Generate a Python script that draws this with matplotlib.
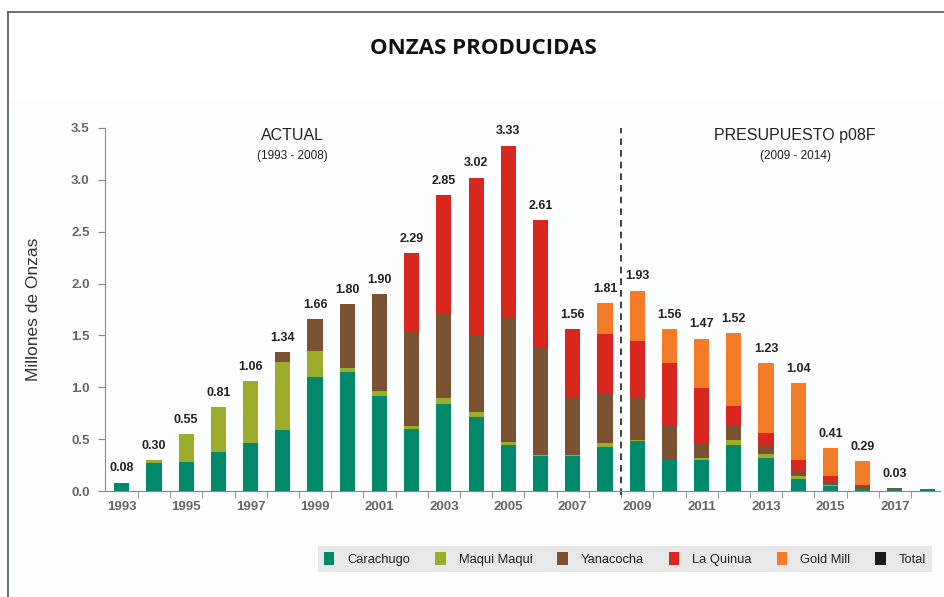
import matplotlib
matplotlib.use('Agg')
import matplotlib.pyplot as plt
import numpy as np
from matplotlib.patches import Patch, Rectangle
from matplotlib.lines import Line2D

years = list(range(1993, 2019))
carachugo = [0.08, 0.27, 0.28, 0.38, 0.46, 0.59, 1.10, 1.15, 0.92, 0.60, 0.84, 0.71, 0.44,
             0.34, 0.34, 0.42, 0.48, 0.30, 0.30, 0.44, 0.32, 0.12, 0.05, 0.02, 0.02, 0.02]
maqui = [0.00, 0.03, 0.27, 0.43, 0.60, 0.65, 0.25, 0.04, 0.04, 0.03, 0.06, 0.05, 0.03,
         0.01, 0.01, 0.04, 0.01, 0.00, 0.02, 0.05, 0.04, 0.02, 0.01, 0.00, 0.00, 0.00]
yanacocha = [0.00, 0.00, 0.00, 0.00, 0.00, 0.10, 0.31, 0.61, 0.94, 0.90, 0.81, 0.74, 1.20,
             1.03, 0.56, 0.48, 0.42, 0.33, 0.14, 0.14, 0.07, 0.04, 0.04, 0.03, 0.005, 0.00]
la_quinua = [0.00, 0.00, 0.00, 0.00, 0.00, 0.00, 0.00, 0.00, 0.00, 0.76, 1.14, 1.52, 1.66,
             1.23, 0.65, 0.57, 0.54, 0.60, 0.53, 0.19, 0.13, 0.12, 0.04, 0.01, 0.00, 0.00]
gold_mill = [0.00, 0.00, 0.00, 0.00, 0.00, 0.00, 0.00, 0.00, 0.00, 0.00, 0.00, 0.00, 0.00,
             0.00, 0.00, 0.30, 0.48, 0.33, 0.48, 0.70, 0.67, 0.74, 0.27, 0.23, 0.005, 0.00]
totals = ['0.08', '0.30', '0.55', '0.81', '1.06', '1.34', '1.66', '1.80', '1.90', '2.29', '2.85',
          '3.02', '3.33', '2.61', '1.56', '1.81', '1.93', '1.56', '1.47', '1.52', '1.23', '1.04',
          '0.41', '0.29', '0.03', '']

series = [('Carachugo', carachugo, '#00896b'),
          ('Maqui Maqui', maqui, '#9cad2b'),
          ('Yanacocha', yanacocha, '#7b5231'),
          ('La Quinua', la_quinua, '#d9271f'),
          ('Gold Mill', gold_mill, '#f47b27')]

plt.rcParams['font.family'] = ['Liberation Sans', 'DejaVu Sans']
narrow = ['Liberation Sans Narrow', 'Liberation Sans']

fig = plt.figure(figsize=(9.45, 5.97), dpi=100)
fig.patch.set_facecolor('white')

# faint panel + frame
fig.add_artist(Rectangle((8/945, 0), 1, 1 - 100/597, transform=fig.transFigure,
                         facecolor='#fcfdfe', edgecolor='none', zorder=-10))
fig.add_artist(Line2D([8/945, 8/945], [0, 1 - 12/597], transform=fig.transFigure,
                      color='#555555', lw=1.2))
fig.add_artist(Line2D([8/945, 1], [1 - 12/597, 1 - 12/597], transform=fig.transFigure,
                      color='#555555', lw=1.2))

ax = fig.add_axes([105/945, 1 - 491/597, (940 - 105)/945, (491 - 128)/597])
ax.set_facecolor('none')

x = np.arange(len(years))
bottom = np.zeros(len(years))
for name, vals, col in series:
    v = np.array(vals)
    ax.bar(x, v, 0.47, bottom=bottom, color=col, label=name)
    bottom += v

for i, t in enumerate(totals):
    if t:
        ax.annotate(t, (x[i], bottom[i]), xytext=(0, 6), textcoords='offset points',
                    ha='center', va='bottom', fontsize=9, fontweight='bold',
                    family=narrow, color='#222222')

ax.set_xlim(-0.52, 25.4)
ax.set_ylim(0, 3.5)
ax.set_yticks(np.arange(0, 3.51, 0.5))
ax.set_yticklabels([f'{v:.1f}' for v in np.arange(0, 3.51, 0.5)])
ax.set_xticks(x[::2])
ax.set_xticklabels([str(y) for y in years[::2]])
ax.set_xticks(np.arange(0.5, 25.5, 1), minor=True)
ax.tick_params(axis='x', which='major', length=0, pad=7)
ax.tick_params(axis='x', which='minor', length=5, color='#888888')
ax.tick_params(axis='y', length=5, color='#888888', pad=6)
for lab in ax.get_xticklabels() + ax.get_yticklabels():
    lab.set_fontweight('bold')
    lab.set_color('#666666')
    lab.set_fontsize(9.5)
for s in ['top', 'right']:
    ax.spines[s].set_visible(False)
for s in ['left', 'bottom']:
    ax.spines[s].set_color('#888888')

ax.set_ylabel('Millones de Onzas', fontsize=12.5, color='#333333', labelpad=22)

ax.axvline(15.5, ymin=-0.01, ymax=1.0, color='#222222', ls=(0, (4, 3)), lw=1.2, clip_on=False)

ax.text(5.3, 3.43, 'ACTUAL', ha='center', va='center', fontsize=11.5, color='#222222')
ax.text(5.3, 3.23, '(1993 - 2008)', ha='center', va='center', fontsize=8.5, color='#222222')
ax.text(20.9, 3.43, 'PRESUPUESTO p08F', ha='center', va='center', fontsize=11.5, color='#222222')
ax.text(20.9, 3.23, '(2009 - 2014)', ha='center', va='center', fontsize=8.5, color='#222222')

fig.text(483/945, 1 - 49/597, 'ONZAS PRODUCIDAS', ha='center', va='center',
         fontsize=16, fontweight='bold', family=['Open Sans', 'DejaVu Sans'], color='#111111')

handles = [Patch(facecolor=c, label=n) for n, _, c in series]
handles.append(Patch(facecolor='#1a1a1a', label='Total'))
leg = fig.legend(handles=handles, loc='center', bbox_to_anchor=(625/945, 1 - 559/597),
                 ncol=6, frameon=True, fontsize=9.3, handlelength=0.8, handleheight=1.1,
                 columnspacing=1.95, handletextpad=1.0, borderpad=0.45, fancybox=False)
leg.get_frame().set_facecolor('#e3e3e3')
leg.get_frame().set_edgecolor('none')
for t in leg.get_texts():
    t.set_color('#222222')

fig.savefig('out.png', dpi=100)
